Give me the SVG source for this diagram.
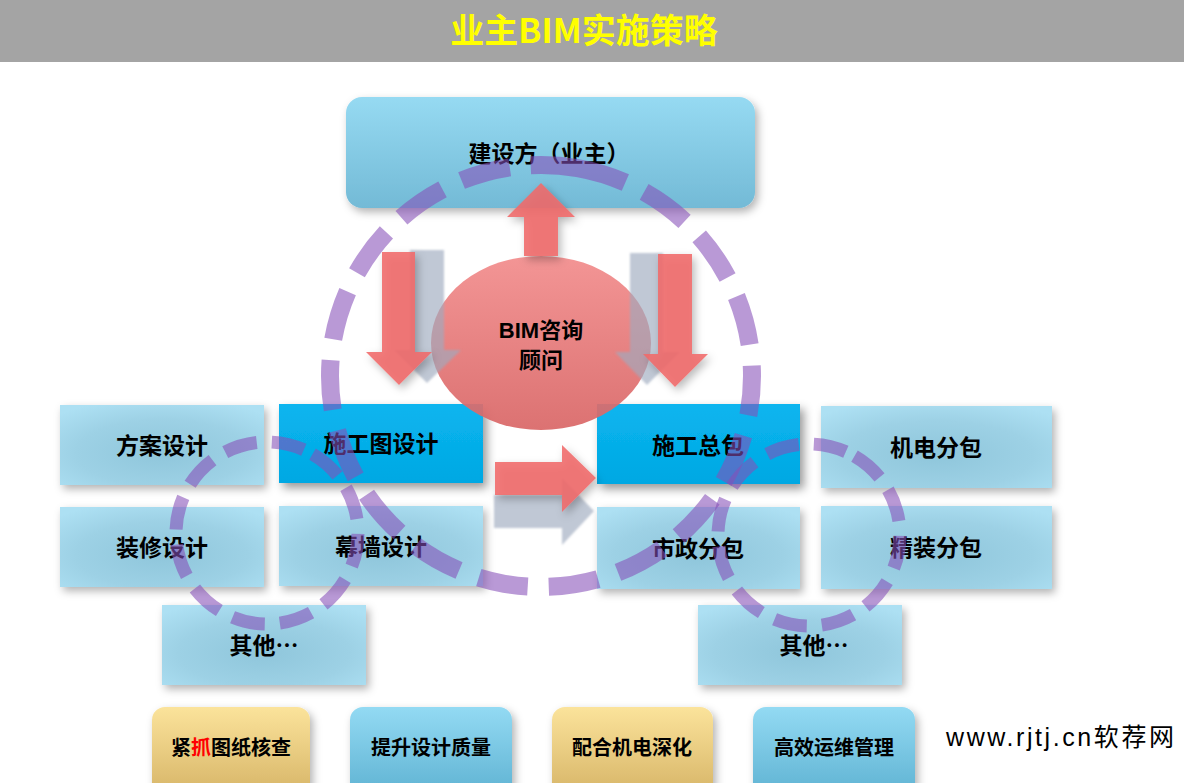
<svg xmlns="http://www.w3.org/2000/svg" width="1184" height="783" viewBox="0 0 1184 783">
<defs>
<filter id="sh" x="-20%" y="-20%" width="150%" height="160%"><feDropShadow dx="4" dy="5" stdDeviation="5" flood-color="#000" flood-opacity="0.4"/></filter>
<filter id="shs" x="-20%" y="-20%" width="150%" height="160%"><feDropShadow dx="3" dy="4" stdDeviation="4" flood-color="#000" flood-opacity="0.3"/></filter>
<filter id="blur1"><feGaussianBlur stdDeviation="1"/></filter>
<linearGradient id="gTop" x1="0" y1="0" x2="0" y2="1"><stop offset="0" stop-color="#96daf2"/><stop offset="1" stop-color="#73bad6"/></linearGradient>
<radialGradient id="gLight" cx="0.5" cy="0.6" r="0.7"><stop offset="0" stop-color="#8fc6db"/><stop offset="0.6" stop-color="#9dd1e5"/><stop offset="1" stop-color="#ade0f3"/></radialGradient>
<linearGradient id="gBright" x1="0" y1="0" x2="0" y2="1"><stop offset="0" stop-color="#09b5ef"/><stop offset="1" stop-color="#03a8e3"/></linearGradient>
<linearGradient id="gYel" x1="0" y1="0" x2="0" y2="1"><stop offset="0" stop-color="#fbe39b"/><stop offset="1" stop-color="#d6b466"/></linearGradient>
<linearGradient id="gBlu" x1="0" y1="0" x2="0" y2="1"><stop offset="0" stop-color="#93daf3"/><stop offset="1" stop-color="#5eb2d2"/></linearGradient>
<linearGradient id="gEll" x1="0" y1="0" x2="0" y2="1"><stop offset="0" stop-color="#f28c8c"/><stop offset="1" stop-color="#d96666"/></linearGradient>
<style>
.lbl{font-family:"Noto Sans CJK SC","Liberation Sans",sans-serif;font-weight:bold;font-size:23px;fill:#000;text-anchor:middle}
.lbl2{font-family:"Liberation Sans","Noto Sans CJK SC",sans-serif;font-weight:bold;font-size:22px;fill:#000;text-anchor:middle}
.bl{font-family:"Noto Sans CJK SC","Liberation Sans",sans-serif;font-weight:bold;font-size:20px;fill:#000;text-anchor:middle}
.light{fill:url(#gLight);filter:url(#shs)}
.bright{fill:url(#gBright);filter:url(#sh)}
.red{fill:#f06a6a;fill-opacity:0.88;filter:url(#shs)}
.gray{fill:#9eabbf;fill-opacity:0.65}
.ring{fill:none;stroke:#8750b8;stroke-opacity:0.58}
</style>
</defs>
<rect x="0" y="0" width="1184" height="783" fill="#fff"/>
<g id="header">
<rect x="0" y="0" width="1184" height="62" fill="#a4a4a4"/>
<text x="584" y="43" font-family="'Noto Sans CJK SC','Liberation Sans',sans-serif" font-weight="bold" font-size="34" fill="#ffff00" text-anchor="middle">业主BIM实施策略</text>
</g>
<g id="node-owner">
<rect x="346" y="97" width="409" height="111" rx="16" fill="url(#gTop)" filter="url(#shs)"/>
<text class="lbl" x="549" y="162">建设方（业主）</text>
</g>
<g id="node-fangan"><rect class="light" x="60" y="405" width="204" height="80"/><text class="lbl" x="162" y="454">方案设计</text></g>
<g id="node-shigongtu"><rect class="bright" x="279" y="404" width="204" height="79"/><text class="lbl" x="381" y="452">施工图设计</text></g>
<g id="node-zhuangxiu"><rect class="light" x="60" y="507" width="204" height="80"/><text class="lbl" x="162" y="556">装修设计</text></g>
<g id="node-muqiang"><rect class="light" x="279" y="506" width="204" height="80"/><text class="lbl" x="381" y="555">幕墙设计</text></g>
<g id="node-other-left"><rect class="light" x="162" y="605" width="204" height="80"/><text class="lbl" x="264" y="654">其他…</text></g>
<g id="node-zongbao"><rect class="bright" x="597" y="404" width="203" height="80"/><text class="lbl" x="698" y="454">施工总包</text></g>
<g id="node-jidian"><rect class="light" x="821" y="406" width="231" height="82"/><text class="lbl" x="936" y="456">机电分包</text></g>
<g id="node-shizheng"><rect class="light" x="597" y="507" width="203" height="82"/><text class="lbl" x="698" y="557">市政分包</text></g>
<g id="node-jingzhuang"><rect class="light" x="821" y="506" width="231" height="83"/><text class="lbl" x="936" y="556">精装分包</text></g>
<g id="node-other-right"><rect class="light" x="698" y="605" width="204" height="80"/><text class="lbl" x="814" y="654">其他…</text></g>
<g id="node-bim">
<ellipse cx="541" cy="343" rx="110" ry="87" fill="url(#gEll)" fill-opacity="0.92"/>
<text class="lbl2" x="541" y="338">BIM咨询</text>
<text class="lbl2" x="541" y="368">顾问</text>
</g>
<g id="connectors">
<path class="gray" filter="url(#blur1)" d="M410,250 L444,250 L444,350 L461,350 L427,383 L394,350 L410,350 Z"/>
<path class="gray" filter="url(#blur1)" d="M630,253 L663,253 L663,352 L680,352 L647,385 L615,352 L630,352 Z"/>
<path class="gray" filter="url(#blur1)" d="M494,495 L562,495 L562,478 L594,511 L562,545 L562,528 L494,528 Z"/>
<path class="red" d="M524,256 L524,217 L507,217 L541,183 L575,217 L558,217 L558,256 Z"/>
<path class="red" d="M382,252 L415,252 L415,352 L432,352 L399,385 L366,352 L382,352 Z"/>
<path class="red" d="M658,254 L692,254 L692,354 L708,354 L675,387 L643,354 L658,354 Z"/>
<path class="red" d="M495,462 L562,462 L562,445 L596,478 L562,512 L562,495 L495,495 Z"/>
</g>
<g id="rings">
<circle class="ring" cx="541" cy="376" r="211" stroke-width="18" stroke-dasharray="50 21" transform="rotate(-80 541 376)"/>
<circle class="ring" cx="267" cy="533" r="91" stroke-width="13" stroke-dasharray="33 15" transform="rotate(-60 267 533)"/>
<circle class="ring" cx="809" cy="535" r="91" stroke-width="13" stroke-dasharray="33 15" transform="rotate(-60 809 535)"/>
</g>
<g id="goal-1"><rect x="152" y="707" width="158" height="90" rx="13" fill="url(#gYel)" filter="url(#shs)"/><text class="bl" x="231" y="755">紧<tspan fill="#ff0000">抓</tspan>图纸核查</text></g>
<g id="goal-2"><rect x="350" y="707" width="162" height="90" rx="13" fill="url(#gBlu)" filter="url(#shs)"/><text class="bl" x="431" y="755">提升设计质量</text></g>
<g id="goal-3"><rect x="552" y="707" width="161" height="90" rx="13" fill="url(#gYel)" filter="url(#shs)"/><text class="bl" x="632" y="755">配合机电深化</text></g>
<g id="goal-4"><rect x="753" y="707" width="162" height="90" rx="13" fill="url(#gBlu)" filter="url(#shs)"/><text class="bl" x="834" y="755">高效运维管理</text></g>
<text x="946" y="746" font-family="'Liberation Sans','Noto Sans CJK SC',sans-serif" font-size="25" fill="#000" textLength="228">www.rjtj.cn软荐网</text>
</svg>
